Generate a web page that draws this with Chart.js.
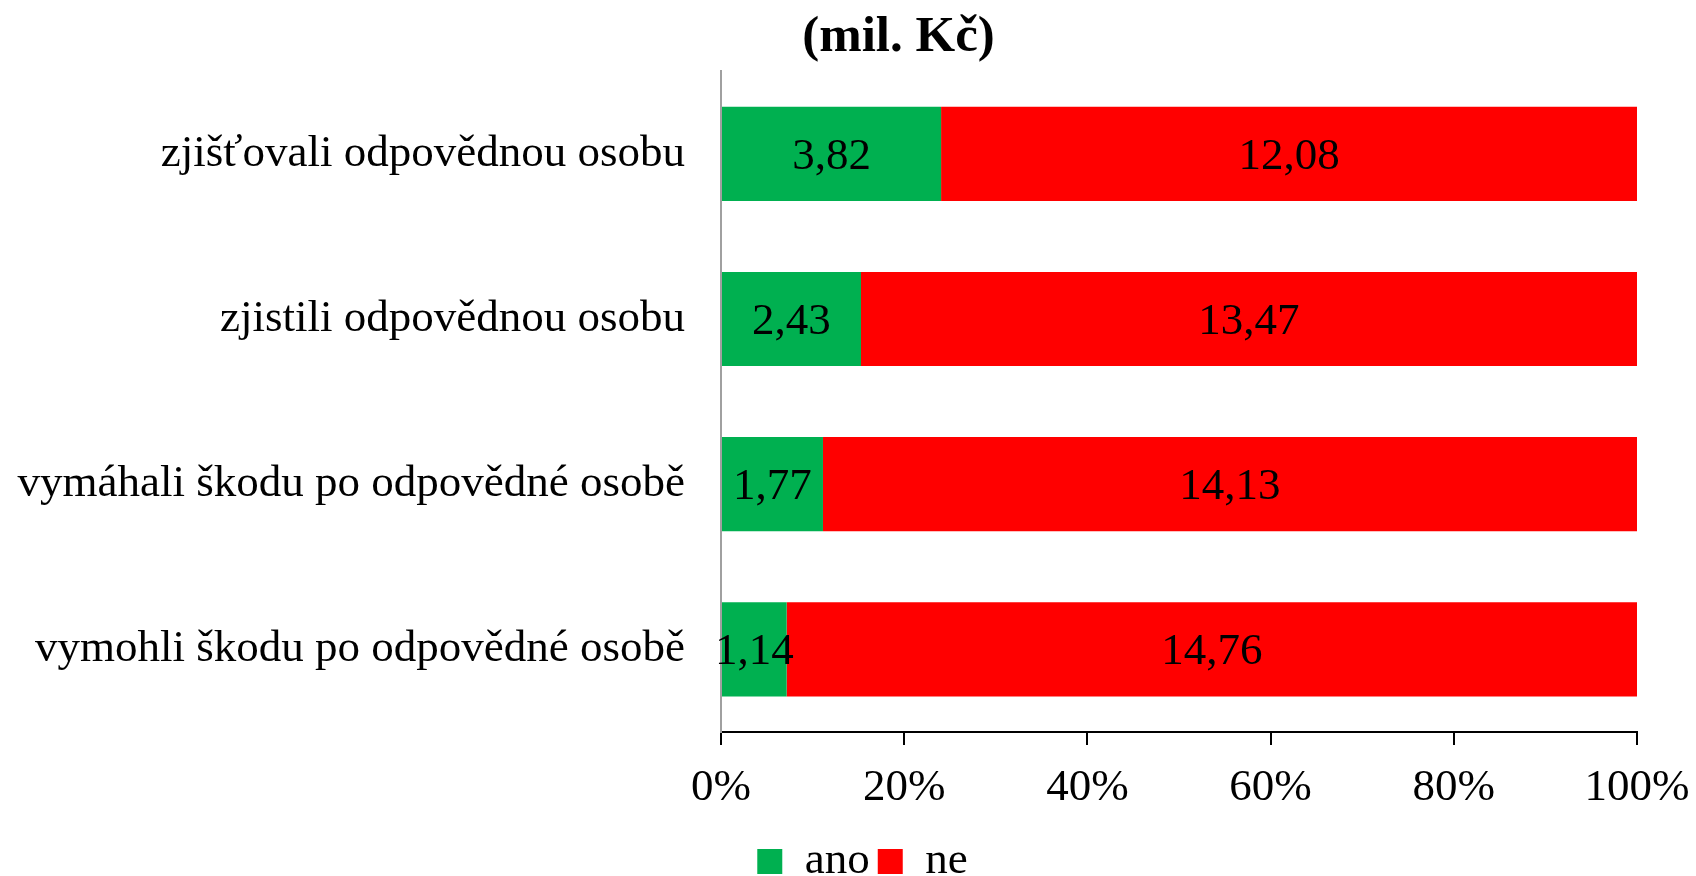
<!DOCTYPE html>
<html>
<head>
<meta charset="utf-8">
<script src="https://cdn.jsdelivr.net/npm/chart.js@4/dist/chart.umd.min.js"></script>
<style>
  html, body { margin: 0; padding: 0; background: #fff; }
  #wrap { width: 1696px; height: 876px; }
</style>
</head>
<body>
<div id="wrap"><canvas id="chart" width="1696" height="876"></canvas></div>
<script>
const categories = [
  'zjišťovali odpovědnou osobu',
  'zjistili odpovědnou osobu',
  'vymáhali škodu po odpovědné osobě',
  'vymohli škodu po odpovědné osobě'
];
const anoValues = [3.82, 2.43, 1.77, 1.14];
const neValues = [12.08, 13.47, 14.13, 14.76];
const xTicks = [0, 20, 40, 60, 80, 100];

const FONT = "'Liberation Serif', serif";

// 100 % stacked: share of each row total
const pct = (vals, i) => vals[i] / (anoValues[i] + neValues[i]) * 100;
const anoPct = anoValues.map((v, i) => pct(anoValues, i));
const nePct = neValues.map((v, i) => pct(neValues, i));

const rawByDataset = [anoValues, neValues];

const valueLabels = {
  id: 'valueLabels',
  afterDatasetsDraw(chart) {
    const ctx = chart.ctx;
    ctx.save();
    ctx.font = '45px ' + FONT;
    ctx.fillStyle = '#000';
    ctx.textAlign = 'center';
    ctx.textBaseline = 'middle';
    chart.data.datasets.forEach((ds, di) => {
      chart.getDatasetMeta(di).data.forEach((bar, i) => {
        const cx = (bar.x + bar.base) / 2;
        ctx.fillText(rawByDataset[di][i].toFixed(2).replace('.', ','), cx, bar.y + 3);
      });
    });
    ctx.restore();
  }
};

// nudge title and legend to where the original puts them
const nudge = {
  id: 'nudge',
  afterLayout(chart) {
    const t = chart.titleBlock, l = chart.legend;
    t.left += 80; t.right += 80;
    l.left += 44; l.right += 44;
    l.top += 18; l.bottom += 18;
  }
};

new Chart(document.getElementById('chart').getContext('2d'), {
  type: 'bar',
  data: {
    labels: categories,
    datasets: [
      { label: 'ano', data: anoPct, backgroundColor: '#00B050', borderWidth: 0 },
      { label: 'ne', data: nePct, backgroundColor: '#FF0000', borderWidth: 0 }
    ]
  },
  options: {
    indexAxis: 'y',
    responsive: false,
    animation: false,
    categoryPercentage: 1,
    barPercentage: 0.57,
    layout: { padding: { left: 0, right: 59, top: 0, bottom: 0 } },
    scales: {
      x: {
        stacked: true,
        min: 0,
        max: 100,
        afterBuildTicks: s => { s.ticks = xTicks.map(v => ({ value: v })); },
        afterFit: s => { s.height = 81; s.paddingRight = 0; },
        ticks: {
          callback: v => v + '%',
          font: { family: FONT, size: 45 },
          color: '#000',
          padding: 16,
          maxRotation: 0
        },
        grid: { drawOnChartArea: false, drawTicks: true, tickLength: 13, color: '#000', lineWidth: 2 },
        border: { color: '#000', width: 2 }
      },
      y: {
        stacked: true,
        afterFit: s => { s.width = 721; },
        ticks: {
          font: { family: FONT, size: 45 },
          color: '#000',
          padding: 28
        },
        grid: { display: false },
        border: { color: '#a0a0a0', width: 2 }
      }
    },
    plugins: {
      title: {
        display: true,
        text: '(mil. Kč)',
        font: { family: FONT, size: 51, weight: 'bold' },
        color: '#000',
        padding: { top: 7, bottom: 3 }
      },
      legend: {
        position: 'bottom',
        labels: {
          font: { family: FONT, size: 45 },
          color: '#000',
          boxWidth: 25,
          boxHeight: 25,
          padding: 8
        }
      },
      tooltip: { enabled: false }
    }
  },
  plugins: [valueLabels, nudge]
});
</script>
</body>
</html>
